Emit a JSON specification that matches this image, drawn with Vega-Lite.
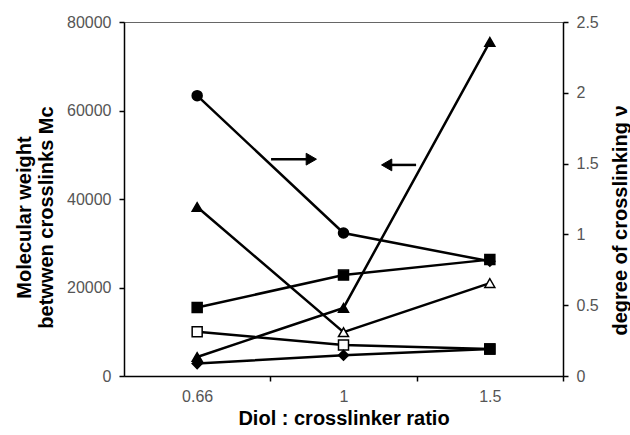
{
  "$schema": "https://vega.github.io/schema/vega-lite/v6.json",
  "width": 439,
  "height": 354,
  "autosize": {"type": "none"},
  "padding": {"left": 124, "top": 22, "right": 67, "bottom": 59},
  "background": "white",
  "config": {
    "view": {"stroke": "#666", "strokeWidth": 1},
    "font": "Liberation Sans",
    "axis": {
      "labelFont": "Liberation Sans",
      "titleFont": "Liberation Sans",
      "labelFontSize": 16,
      "labelColor": "#555",
      "titleFontSize": 20,
      "titleFontWeight": "bold",
      "titleColor": "black",
      "domainColor": "black",
      "domainWidth": 1.5,
      "tickColor": "black",
      "tickWidth": 1.5,
      "tickSize": 5,
      "grid": false
    }
  },
  "datasets": {
    "mc": [
      {"series": "B", "ratio": "0.66", "pos": 0, "mc": 38200, "marker": "filled triangle"},
      {"series": "B", "ratio": "1", "pos": 1, "mc": 9900, "marker": "open triangle"},
      {"series": "B", "ratio": "1.5", "pos": 2, "mc": 21000, "marker": "open triangle"},
      {"series": "C", "ratio": "0.66", "pos": 0, "mc": 15500, "marker": "filled square"},
      {"series": "C", "ratio": "1", "pos": 1, "mc": 22800, "marker": "filled square"},
      {"series": "C", "ratio": "1.5", "pos": 2, "mc": 26300, "marker": "filled square"},
      {"series": "D", "ratio": "0.66", "pos": 0, "mc": 10000, "marker": "open square"},
      {"series": "D", "ratio": "1", "pos": 1, "mc": 7000, "marker": "open square"},
      {"series": "D", "ratio": "1.5", "pos": 2, "mc": 6100, "marker": "filled square"},
      {"series": "E", "ratio": "0.66", "pos": 0, "mc": 4300, "marker": "filled triangle"},
      {"series": "E", "ratio": "1", "pos": 1, "mc": 15400, "marker": "filled triangle"},
      {"series": "E", "ratio": "1.5", "pos": 2, "mc": 75500, "marker": "filled triangle"},
      {"series": "F", "ratio": "0.66", "pos": 0, "mc": 2800, "marker": "filled diamond"},
      {"series": "F", "ratio": "1", "pos": 1, "mc": 4700, "marker": "filled diamond"},
      {"series": "F", "ratio": "1.5", "pos": 2, "mc": 6100, "marker": "filled square"}
    ],
    "nu": [
      {"series": "A", "ratio": "0.66", "pos": 0, "nu": 1.98, "marker": "filled circle"},
      {"series": "A", "ratio": "1", "pos": 1, "nu": 1.01, "marker": "filled circle"},
      {"series": "A", "ratio": "1.5", "pos": 2, "nu": 0.81, "marker": "filled diamond"}
    ],
    "arrows": [
      {"direction": "right", "tail": 0.505, "tip": 0.78, "mc": 49000, "marker": "arrow right"},
      {"direction": "left", "tail": 1.496, "tip": 1.295, "mc": 47700, "marker": "arrow left"}
    ]
  },
  "layer": [
    {
      "layer": [
        {
          "data": {"name": "mc"},
          "mark": {"type": "line", "color": "black", "strokeWidth": 2.5},
          "encoding": {
            "x": {
              "field": "pos", "type": "quantitative",
              "scale": {"domain": [-0.5, 2.5], "nice": false, "zero": false},
              "axis": {
                "values": [0, 1, 2],
                "labelExpr": "datum.value == 0 ? '0.66' : datum.value == 1 ? '1' : '1.5'",
                "title": "Diol : crosslinker ratio",
                "tickOffset": 73,
                "labelOffset": -73,
                "labelPadding": 7,
                "titlePadding": 4
              }
            },
            "y": {
              "field": "mc", "type": "quantitative",
              "scale": {"domain": [0, 80000], "nice": false},
              "axis": {
                "orient": "left",
                "values": [0, 20000, 40000, 60000, 80000],
                "format": "d",
                "title": ["Molecular weight", "betwwen crosslinks Mc"],
                "labelPadding": 8,
                "titlePadding": 10,
                "titleY": 195
              }
            },
            "detail": {"field": "series", "type": "nominal"}
          }
        },
        {
          "data": {"name": "mc"},
          "mark": {"type": "point", "filled": true, "stroke": "black", "strokeWidth": 1.5, "size": 100, "opacity": 1},
          "encoding": {
            "x": {"field": "pos", "type": "quantitative"},
            "y": {"field": "mc", "type": "quantitative"},
            "shape": {
              "field": "marker", "type": "nominal", "legend": null,
              "scale": {
                "domain": ["filled circle", "filled triangle", "open triangle", "filled square", "open square", "filled diamond", "arrow right", "arrow left"],
                "range": ["circle", "triangle-up", "triangle-up", "square", "square", "diamond", "triangle-right", "triangle-left"]
              }
            },
            "fill": {
              "field": "marker", "type": "nominal", "legend": null,
              "scale": {
                "domain": ["filled circle", "filled triangle", "open triangle", "filled square", "open square", "filled diamond", "arrow right", "arrow left"],
                "range": ["black", "black", "white", "black", "white", "black", "black", "black"]
              }
            }
          }
        },
        {
          "data": {"name": "arrows"},
          "mark": {"type": "rule", "color": "black", "strokeWidth": 2.5},
          "encoding": {
            "x": {"field": "tail", "type": "quantitative"},
            "x2": {"field": "tip"},
            "y": {"field": "mc", "type": "quantitative"}
          }
        },
        {
          "data": {"name": "arrows"},
          "mark": {"type": "point", "filled": true, "stroke": "black", "strokeWidth": 1, "size": 140, "opacity": 1},
          "encoding": {
            "x": {"field": "tip", "type": "quantitative"},
            "y": {"field": "mc", "type": "quantitative"},
            "shape": {"field": "marker", "type": "nominal", "legend": null},
            "fill": {"field": "marker", "type": "nominal", "legend": null}
          }
        }
      ]
    },
    {
      "data": {"name": "nu"},
      "layer": [
        {
          "mark": {"type": "line", "color": "black", "strokeWidth": 2.5},
          "encoding": {
            "x": {"field": "pos", "type": "quantitative"},
            "y": {
              "field": "nu", "type": "quantitative",
              "scale": {"domain": [0, 2.5], "nice": false},
              "axis": {
                "orient": "right",
                "values": [0, 0.5, 1, 1.5, 2, 2.5],
                "format": "~g",
                "title": "degree of crosslinking ν",
                "titleAngle": 270,
                "titleBaseline": "top",
                "labelPadding": 8,
                "titlePadding": 12,
                "titleY": 198
              }
            },
            "detail": {"field": "series", "type": "nominal"}
          }
        },
        {
          "mark": {"type": "point", "filled": true, "stroke": "black", "strokeWidth": 1.5, "size": 100, "opacity": 1},
          "encoding": {
            "x": {"field": "pos", "type": "quantitative"},
            "y": {"field": "nu", "type": "quantitative"},
            "shape": {"field": "marker", "type": "nominal", "legend": null},
            "fill": {"field": "marker", "type": "nominal", "legend": null}
          }
        }
      ]
    }
  ],
  "resolve": {"scale": {"y": "independent"}}
}
